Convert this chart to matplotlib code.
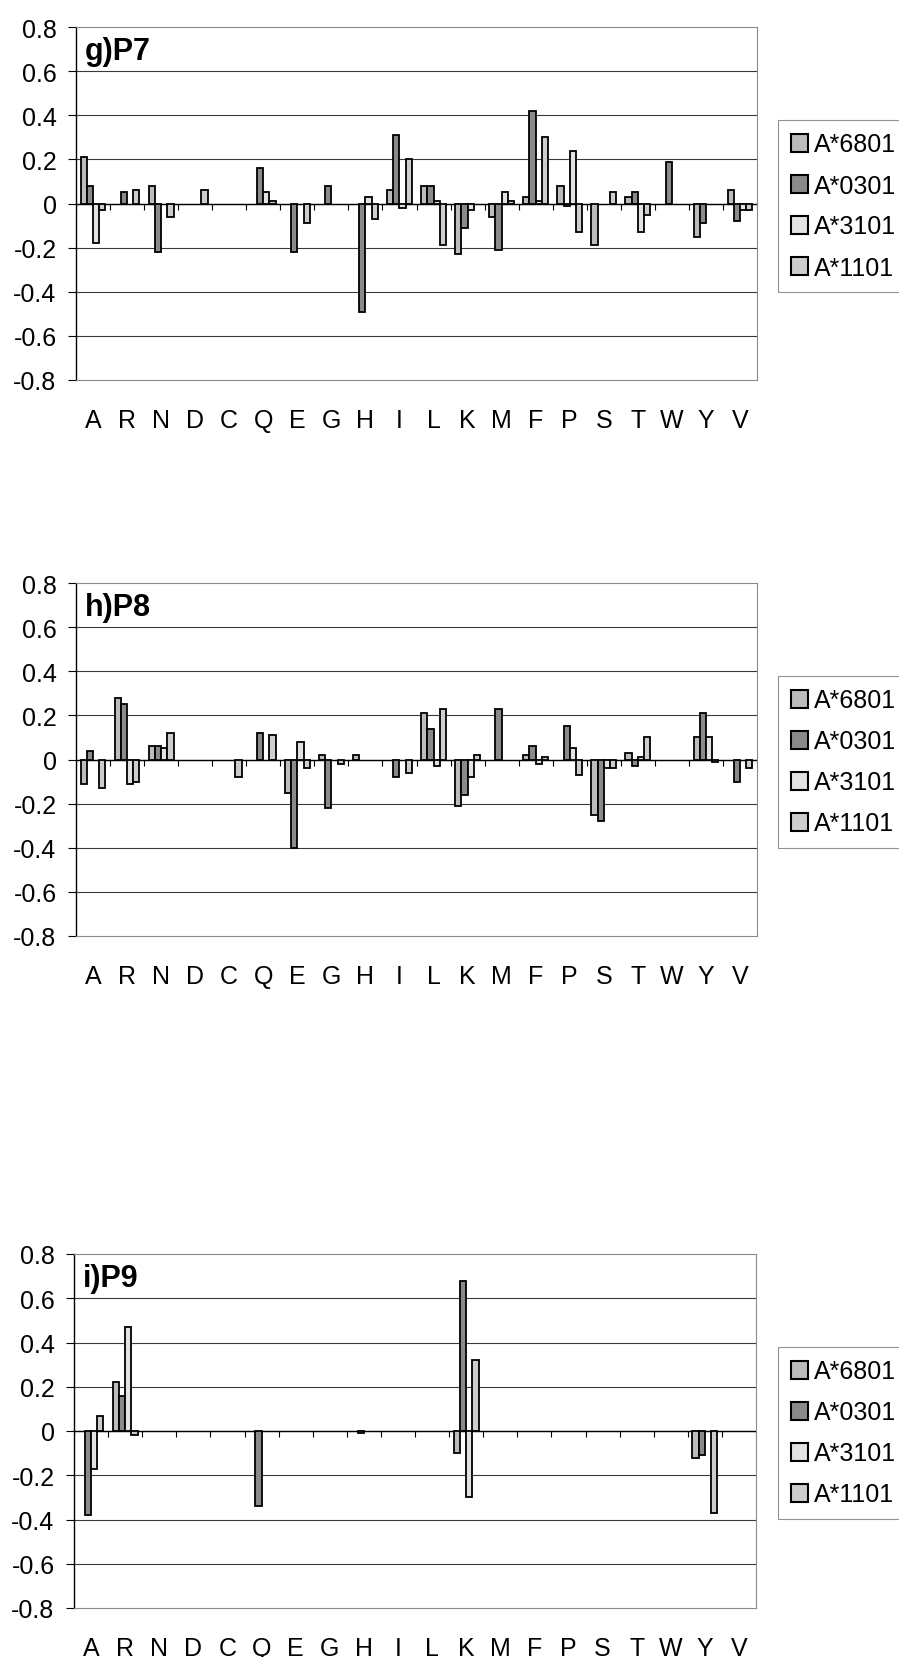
import numpy as np
import matplotlib
matplotlib.use("Agg")
import matplotlib.pyplot as plt
from matplotlib.patches import Rectangle

plt.rcParams['font.family'] = ['Liberation Sans', 'DejaVu Sans']

categories = ["A", "R", "N", "D", "C", "Q", "E", "G", "H", "I",
              "L", "K", "M", "F", "P", "S", "T", "W", "Y", "V"]
series_names = ["A*6801", "A*0301", "A*3101", "A*1101"]

# Panel g) P7
g_6801 = [0.21, 0, 0.08, 0, 0, 0, 0, 0, 0, 0.06, 0.08, -0.23, -0.06, 0.03, 0.08, -0.19, 0.03, 0, -0.15, 0.06]
g_0301 = [0.08, 0.05, -0.22, 0, 0, 0.16, -0.22, 0.08, -0.49, 0.31, 0.08, -0.11, -0.21, 0.42, -0.01, 0, 0.05, 0.19, -0.09, -0.08]
g_3101 = [-0.18, 0, 0, 0, 0, 0.05, 0, 0, 0.03, -0.02, 0.01, -0.03, 0.05, 0.01, 0.24, 0, -0.13, 0, 0, -0.03]
g_1101 = [-0.03, 0.06, -0.06, 0.06, 0, 0.01, -0.09, 0, -0.07, 0.20, -0.19, 0, 0.01, 0.30, -0.13, 0.05, -0.05, 0, 0, -0.03]

# Panel h) P8
h_6801 = [-0.11, 0.28, 0.06, 0, 0, 0, -0.15, 0.02, 0.02, 0, 0.21, -0.21, 0, 0.02, 0, -0.25, 0.03, 0, 0.10, 0]
h_0301 = [0.04, 0.25, 0.06, 0, 0, 0.12, -0.40, -0.22, 0, -0.08, 0.14, -0.16, 0.23, 0.06, 0.15, -0.28, -0.03, 0, 0.21, -0.10]
h_3101 = [0, -0.11, 0.05, 0, 0, 0, 0.08, 0, 0, 0, -0.03, -0.08, 0, -0.02, 0.05, -0.04, 0.01, 0, 0.10, 0]
h_1101 = [-0.13, -0.10, 0.12, 0, -0.08, 0.11, -0.04, -0.02, 0, -0.06, 0.23, 0.02, 0, 0.01, -0.07, -0.04, 0.10, 0, -0.01, -0.04]

# Panel i) P9
i_6801 = [0, 0.22, 0, 0, 0, 0, 0, 0, 0, 0, 0, -0.10, 0, 0, 0, 0, 0, 0, -0.12, 0]
i_0301 = [-0.38, 0.16, 0, 0, 0, -0.34, 0, 0, -0.01, 0, 0, 0.68, 0, 0, 0, 0, 0, 0, -0.11, 0]
i_3101 = [-0.17, 0.47, 0, 0, 0, 0, 0, 0, 0, 0, 0, -0.30, 0, 0, 0, 0, 0, 0, 0, 0]
i_1101 = [0.07, -0.02, 0, 0, 0, 0, 0, 0, 0, 0, 0, 0.32, 0, 0, 0, 0, 0, 0, -0.37, 0]

panel_titles = ["g)P7", "h)P8", "i)P9"]
yticks = [-0.8, -0.6, -0.4, -0.2, 0, 0.2, 0.4, 0.6, 0.8]
ytick_labels = ["-0.8", "-0.6", "-0.4", "-0.2", "0", "0.2", "0.4", "0.6", "0.8"]

panels = [
    [g_6801, g_0301, g_3101, g_1101],
    [h_6801, h_0301, h_3101, h_1101],
    [i_6801, i_0301, i_3101, i_1101],
]

colors = ["#bcbcbc", "#8a8a8a", "#e2e2e2", "#cdcdcd"]

W, H = 899, 1658
fig = plt.figure(figsize=(W / 100, H / 100), dpi=100)

# axes boxes in pixels: left, right, top, bottom
boxes = [(76, 757, 28, 381), (76, 757, 584, 937), (74, 756, 1255, 1609)]
legend_tops = [121, 677, 1348]

x = np.arange(len(categories))
bw = 0.182
offsets = (np.arange(4) - 1.5) * bw

for p, (data, title, box, ltop) in enumerate(zip(panels, panel_titles, boxes, legend_tops)):
    l, r, t, b = box
    ax = fig.add_axes([l / W, 1 - b / H, (r - l) / W, (b - t) / H])
    ax.set_xlim(-0.5, len(categories) - 0.5)
    ax.set_ylim(-0.8, 0.8)
    ax.set_yticks(yticks)
    ax.set_yticklabels(ytick_labels)
    for yv in yticks[1:-1]:
        ax.axhline(yv, color="#3a3a3a", lw=0.8, zorder=1)
    handles = []
    for k, vals in enumerate(data):
        vals = np.asarray(vals, dtype=float)
        nz = vals != 0
        ax.bar(x[nz] + offsets[k], vals[nz], width=bw, color=colors[k],
               edgecolor="black", linewidth=1.3, zorder=3)
        handles.append(Rectangle((0, 0), 1, 1, facecolor=colors[k],
                                 edgecolor="black", linewidth=1.5))
    ax.axhline(0, color="black", lw=1.0, zorder=2)
    ax.vlines(np.arange(len(categories) + 1) - 0.5, -0.028, 0,
              color="black", lw=0.8, zorder=2)
    ax.set_xticks(x)
    ax.set_xticklabels(categories)
    ax.tick_params(axis="x", length=0, pad=20, labelsize=18)
    ax.tick_params(axis="y", length=6, width=0.8, direction="out",
                   pad=8, labelsize=18)
    for side in ["top", "right", "bottom"]:
        ax.spines[side].set_color("#8a8a8a")
        ax.spines[side].set_linewidth(0.8)
    ax.spines["left"].set_color("black")
    ax.spines["left"].set_linewidth(1.0)
    ax.text(0.013, 0.932, title, transform=ax.transAxes, fontsize=22,
            fontweight="bold", va="center", ha="left")
    leg = fig.legend(handles, series_names, loc="upper left",
                     bbox_to_anchor=(778 / W, 1 - ltop / H),
                     fontsize=18, frameon=True, fancybox=False,
                     edgecolor="#777777", borderpad=0.5,
                     labelspacing=0.68, handlelength=0.7, handleheight=0.7,
                     handletextpad=0.25, borderaxespad=0.0)
    leg.get_frame().set_linewidth(0.8)

fig.savefig("out.png", dpi=100)
